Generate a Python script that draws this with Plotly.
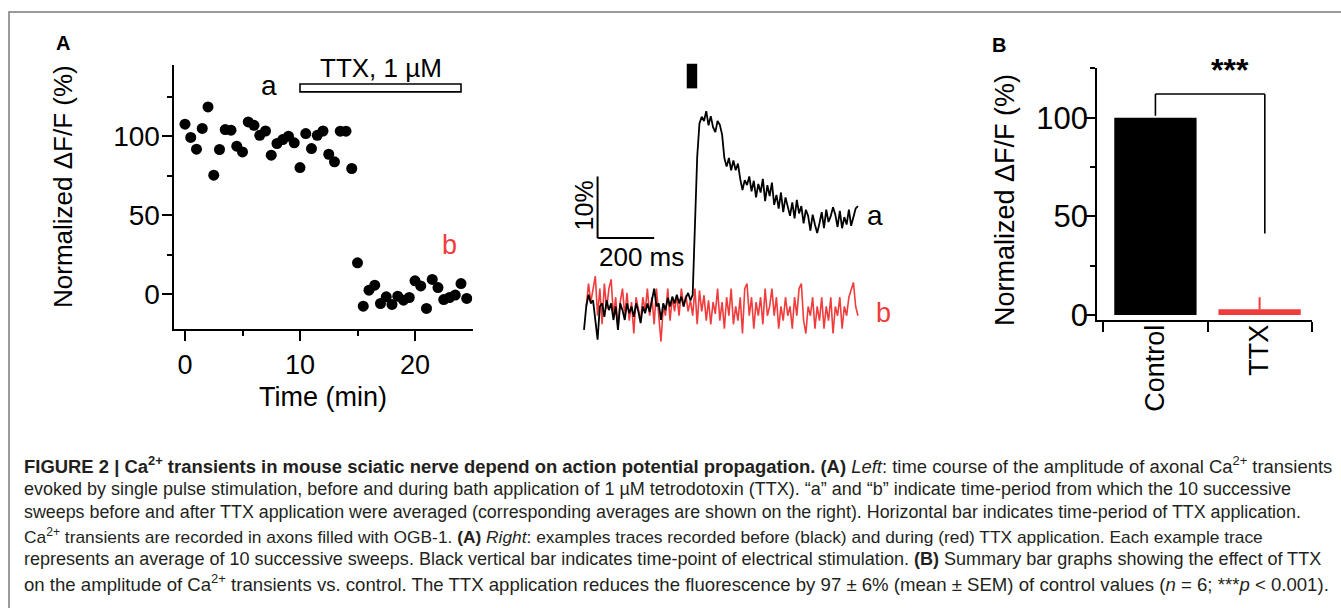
import numpy as np
import plotly.graph_objects as go

W, H = 1341, 608
FONT = "Liberation Sans, Arial, sans-serif"
RED = "#F03C3C"

# ---------------- Panel A (left): time course ----------------
time_min = [0, 0.5, 1, 1.5, 2, 2.5, 3, 3.5, 4, 4.5, 5, 5.5, 6, 6.5, 7, 7.5, 8, 8.5, 9, 9.5,
            10, 10.5, 11, 11.5, 12, 12.5, 13, 13.5, 14, 14.5,
            15, 15.5, 16, 16.5, 17, 17.5, 18, 18.5, 19, 19.5, 20, 20.5, 21, 21.5, 22, 22.5,
            23, 23.5, 24, 24.5]
norm_dff = [107.6, 99.2, 91.8, 104.9, 118.5, 75.4, 91.6, 104.2, 103.8, 93.7, 90.1, 109.0,
            106.9, 100.6, 103.3, 88.0, 95.4, 97.9, 100.0, 95.8, 80.2, 101.7, 92.2, 100.6,
            103.3, 88.6, 83.8, 103.2, 103.2, 79.6,
            20.0, -7.4, 2.7, 5.9, -5.7, -1.5, -6.3, -1.1, -3.6, -1.9, 8.6, 5.4, -8.8, 9.5,
            4.4, -3.2, -1.9, -0.4, 6.9, -2.5]
ttx_period = [10, 24]          # min, horizontal bar
ttx_bar_level = [128, 133]

# ---------------- Panel A (right): example traces ----------------
sample_ms = 8
trace_a = [-2.9, 0.9, 2.8, 1.4, 1.9, -1.3, -4.5, 0.9, 1.4, -0.8, 1.9, 0.3, 1.4, -1.3, 0.9,
           -2.9, 1.4, 0.3, -1.3, 1.4, -0.2, 0.9, -0.8, 1.4, 0.1, -1.8, 0.9, -0.2, 1.4, 0.0,
           1.9, 3.8, 0.9, 1.4, -1.3, 1.4, 0.3, 2.3, 0.9, 2.5, 1.4, 2.8, 1.4, 2.5, 0.9, 2.3,
           3.1, 1.9, 2.8,
           13.3, 25.2, 30.6, 31.7, 31.0, 32.6, 30.3, 31.8, 30.0, 29.2, 31.0, 30.4, 28.8,
           25.0, 23.6, 25.0, 23.0, 24.6, 23.0, 24.1, 21.6, 19.8, 21.4, 20.6, 22.0, 19.6,
           21.3, 18.6, 20.8, 19.4, 21.6, 18.0, 20.6, 18.8, 21.0, 17.4, 19.0, 16.8, 19.4,
           16.2, 18.6, 16.8, 15.6, 17.8, 15.2, 18.2, 16.0, 17.2, 14.4, 16.6, 15.6, 13.2,
           15.8, 14.2, 12.8, 14.4, 16.2, 13.6, 16.6, 14.6, 15.6, 17.0, 15.8, 13.8, 16.4,
           13.6, 15.4, 14.2, 16.6, 14.0, 15.2, 16.8, 17.2]
trace_b = [0.9, 4.6, 1.6, 3.8, 5.8, -0.6, 3.8, -2.0, 4.6, 0.5, 3.8, 5.3, -0.6, 2.4, -2.7,
           1.6, 3.8, -0.6, 3.1, -1.4, 1.6, -3.5, 2.4, 0.5, -1.4, 2.4, 0.1, 3.8, -0.6, 2.4,
           -2.0, 3.8, -0.6, -4.8, 0.9, -0.6, 3.8, -1.4, 2.4, 0.1, 2.7, -0.6, 3.8, 0.9, 2.7,
           0.1, 1.9, -0.6, 3.8, -2.0, 3.5, 0.1, 2.7, -1.4, 1.9, -2.0, 1.6, -0.3, 3.8, -1.4,
           1.6, -2.7, 2.4, -0.6, 3.8, -2.0, 0.9, -1.4, 2.4, -3.5, 3.8, 4.6, -0.6, 2.4, -2.7,
           1.6, -0.6, 2.4, -2.0, 3.8, -0.6, 0.9, 3.8, -0.6, 2.4, -2.7, 0.9, -1.4, 2.4, -0.6,
           0.9, -2.7, 2.4, -0.6, 3.8, 4.6, -1.4, -3.5, 0.9, -0.6, 2.4, -2.7, 0.9, -1.4, 2.4,
           -2.7, 0.9, -1.4, 2.4, -3.5, 0.9, -0.6, 2.4, -2.7, 0.9, -0.6, 2.4, 3.8, 4.8, 0.9,
           -0.6]
trace_a_start_ms = 0
trace_b_start_ms = 8
stim_ms = [363, 400]
stim_level = [36.3, 40.3]
scalebar_ms = 200
scalebar_pct = 10
scalebar_origin = (48, 12)

# ---------------- Panel B: summary bars ----------------
groups = ["Control", "TTX"]
group_mean = [100, 3]
group_sem = [0, 6]

t_a = trace_a_start_ms + np.arange(len(trace_a)) * sample_ms
t_b = trace_b_start_ms + np.arange(len(trace_b)) * sample_ms


def px_x(p):
    return p / W


def px_y(p):
    return 1 - p / H


fig = go.Figure()

fig.add_trace(go.Scatter(x=time_min, y=norm_dff, mode="markers",
                         marker=dict(size=11, color="black"),
                         xaxis="x", yaxis="y", showlegend=False, hoverinfo="x+y"))

fig.add_trace(go.Scatter(x=t_b, y=trace_b, mode="lines",
                         line=dict(color=RED, width=1.6),
                         xaxis="x2", yaxis="y2", showlegend=False))
fig.add_trace(go.Scatter(x=t_a, y=trace_a, mode="lines",
                         line=dict(color="black", width=1.8),
                         xaxis="x2", yaxis="y2", showlegend=False))

fig.add_trace(go.Bar(x=groups, y=group_mean, width=0.79,
                     marker=dict(color=["black", RED], line=dict(width=0)),
                     error_y=dict(type="data", array=group_sem, arrayminus=[0, 0],
                                  symmetric=False, width=0, thickness=2, color=RED),
                     xaxis="x3", yaxis="y3", showlegend=False))

axis_common = dict(showline=True, linewidth=2, linecolor="black", ticks="outside",
                   tickwidth=2, tickcolor="black", showgrid=False, zeroline=False,
                   automargin=False)
minor_y = dict(tickvals=[25, 75, 125], ticklen=5, tickwidth=2, ticks="outside", tickcolor="black")

fig.update_layout(
    width=W, height=H, margin=dict(l=0, r=0, t=0, b=0), autosize=False,
    paper_bgcolor="white", plot_bgcolor="rgba(0,0,0,0)",
    font=dict(family=FONT, color="black"),
    xaxis=dict(domain=[px_x(173.5), px_x(472.5)], range=[-1, 25], anchor="y",
               tickvals=[0, 10, 20], ticklen=10,
               tickfont=dict(family=FONT, size=27, color="black"),
               minor=dict(tickvals=[5, 15], ticklen=5, tickwidth=2, ticks="outside", tickcolor="black"),
               title=dict(text="Time (min)", font=dict(size=27), standoff=8),
               **axis_common),
    yaxis=dict(domain=[px_y(329.3), px_y(65)], range=[-22, 145], anchor="x",
               tickvals=[0, 50, 100], ticklen=10, ticklabelstandoff=-4,
               tickfont=dict(family=FONT, size=28, color="black"),
               minor=minor_y, **axis_common),
    xaxis2=dict(domain=[px_x(560), px_x(900)], range=[-84.8, 1116.6], anchor="y2", visible=False),
    yaxis2=dict(domain=[px_y(350), px_y(50)], range=[-6.17, 42.53], anchor="x2", visible=False),
    xaxis3=dict(domain=[px_x(1097.3), px_x(1311.7)], range=[-0.558, 1.5], anchor="y3",
                type="category", tickson="boundaries", ticklen=10, tickangle=-90,
                ticklabelstandoff=-8,
                tickfont=dict(family=FONT, size=27, color="black"),
                **axis_common),
    yaxis3=dict(domain=[px_y(320), px_y(68.3)], range=[-2.5, 125], anchor="x3",
                tickvals=[0, 50, 100], ticklen=10, ticklabelstandoff=-9,
                tickfont=dict(family=FONT, size=31, color="black"),
                minor=minor_y, **axis_common),
    bargap=0.2,
)

shapes = [
    # outer frame
    dict(type="rect", xref="paper", yref="paper", x0=px_x(9), x1=px_x(1360),
         y0=px_y(640), y1=px_y(12), line=dict(color="#7a7a7a", width=1.5)),
    # TTX application bar
    dict(type="rect", xref="x", yref="y", x0=ttx_period[0], x1=ttx_period[1],
         y0=ttx_bar_level[0], y1=ttx_bar_level[1], line=dict(color="black", width=1.6),
         fillcolor="white"),
    # stimulation marker
    dict(type="rect", xref="x2", yref="y2", x0=stim_ms[0], x1=stim_ms[1],
         y0=stim_level[0], y1=stim_level[1], line=dict(width=0), fillcolor="black"),
    # scale bars
    dict(type="line", xref="x2", yref="y2", x0=scalebar_origin[0], x1=scalebar_origin[0],
         y0=scalebar_origin[1], y1=scalebar_origin[1] + scalebar_pct, line=dict(color="black", width=2)),
    dict(type="line", xref="x2", yref="y2", x0=scalebar_origin[0], x1=scalebar_origin[0] + scalebar_ms,
         y0=scalebar_origin[1], y1=scalebar_origin[1], line=dict(color="black", width=2)),
    # significance bracket
    dict(type="line", xref="x3", yref="y3", x0=0, x1=0, y0=101, y1=112, line=dict(color="black", width=1.6)),
    dict(type="line", xref="x3", yref="y3", x0=0, x1=1.05, y0=112, y1=112, line=dict(color="black", width=1.6)),
    dict(type="line", xref="x3", yref="y3", x0=1.05, x1=1.05, y0=112, y1=41.3, line=dict(color="black", width=1.6)),
]
fig.update_layout(shapes=shapes)

C = dict(xanchor="center", yanchor="middle", showarrow=False)
ann = [
    dict(text="<b>A</b>", xref="paper", yref="paper", x=px_x(63), y=px_y(43), font=dict(size=20), **C),
    dict(text="<b>B</b>", xref="paper", yref="paper", x=px_x(999), y=px_y(45), font=dict(size=20), **C),
    # y-axis titles
    dict(text="Normalized \u0394F/F (%)", xref="paper", yref="paper", x=px_x(63), y=px_y(187),
         textangle=-90, font=dict(size=26), **C),
    dict(text="Normalized \u0394F/F (%)", xref="paper", yref="paper", x=px_x(1005), y=px_y(200),
         textangle=-90, font=dict(size=27), **C),
    dict(text="a", xref="x", yref="y", x=7.3, y=132.2, font=dict(size=28), **C),
    dict(text="b", xref="x", yref="y", x=23.0, y=31.0, font=dict(size=27, color=RED), **C),
    dict(text="TTX, 1 \u00b5M", xref="x", yref="y", x=17.0, y=143.3, font=dict(size=26), **C),
    dict(text="a", xref="x2", yref="y2", x=1028, y=15.7, font=dict(size=28), **C),
    dict(text="b", xref="x2", yref="y2", x=1060, y=-0.2, font=dict(size=27, color=RED), **C),
    dict(text="10%", xref="x2", yref="y2", x=0, y=17.3, textangle=-90, font=dict(size=25), **C),
    dict(text="200 ms", xref="x2", yref="y2", x=45, y=9.0, xanchor="left", yanchor="middle",
         showarrow=False, font=dict(size=26)),
    dict(text="<b>***</b>", xref="x3", yref="y3", x=0.714, y=124.0, font=dict(size=32), **C),
]

caption = [
    "<b>FIGURE 2 | Ca<sup>2+</sup> transients in mouse sciatic nerve depend on action potential propagation. (A)</b> <i>Left</i>: time course of the amplitude of axonal Ca<sup>2+</sup> transients",
    "evoked by single pulse stimulation, before and during bath application of 1 \u00b5M tetrodotoxin (TTX). \u201ca\u201d and \u201cb\u201d indicate time-period from which the 10 successive",
    "sweeps before and after TTX application were averaged (corresponding averages are shown on the right). Horizontal bar indicates time-period of TTX application.",
    "Ca<sup>2+</sup> transients are recorded in axons filled with OGB-1. <b>(A)</b> <i>Right</i>: examples traces recorded before (black) and during (red) TTX application. Each example trace",
    "represents an average of 10 successive sweeps. Black vertical bar indicates time-point of electrical stimulation. <b>(B)</b> Summary bar graphs showing the effect of TTX",
    "on the amplitude of Ca<sup>2+</sup> transients vs. control. The TTX application reduces the fluorescence by 97 \u00b1 6% (mean \u00b1 SEM) of control values (<i>n</i> = 6; ***<i>p</i> &lt; 0.001).",
]
cap_y = [465, 488.5, 512, 535.5, 559, 582.5]
cap_size = [18.45, 18.0, 17.85, 17.35, 18.05, 18.6]
for line, yy, fs in zip(caption, cap_y, cap_size):
    ann.append(dict(text=line, xref="paper", yref="paper", x=px_x(22), y=px_y(yy),
                    xanchor="left", yanchor="middle", showarrow=False, align="left",
                    font=dict(size=fs, color="#231f20", family=FONT)))
fig.update_layout(annotations=ann)

fig.write_html("out.html", config={"displayModeBar": False},
               post_script="document.body.style.margin='0px';document.body.style.overflow='hidden';")
